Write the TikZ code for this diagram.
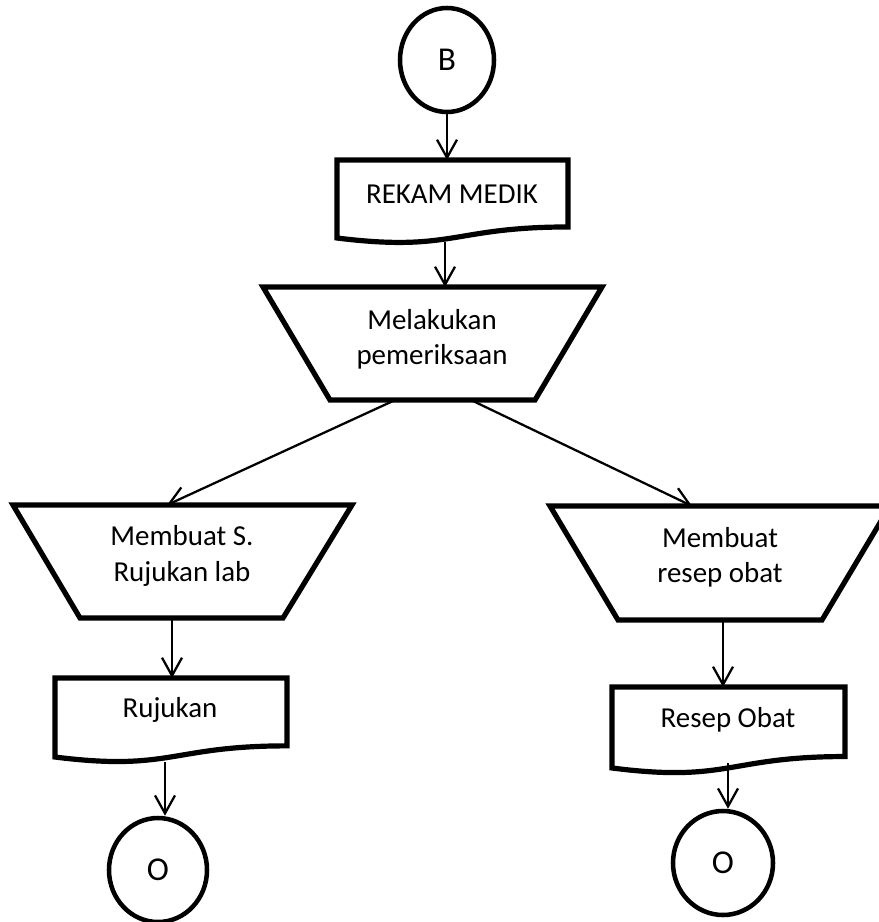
\documentclass[tikz,border=0pt]{standalone}
\usepackage{fontspec}
\setmainfont{Carlito}
\usetikzlibrary{arrows.meta,shapes.geometric}
% document symbol: x, y (top left), width, height
\newcommand\docoutline[4]{%
  \draw[shapeline] (#1,#2) -- (#1+#3,#2) -- (#1+#3,#2+0.802*#4)
    .. controls (#1+0.5*#3,#2+0.802*#4) and (#1+0.5*#3,#2+1.107*#4) .. (#1,#2+0.934*#4) -- cycle;}
% manual operation symbol: top y, top left x, top right x, bottom y, bottom left x, bottom right x
\newcommand\manualoutline[6]{%
  \draw[shapeline] (#2,#1) -- (#3,#1) -- (#6,#4) -- (#5,#4) -- cycle;}
\begin{document}
\begin{tikzpicture}[x=0.75pt,y=-0.75pt,
  shapeline/.style={line width=3.9pt,line join=miter},
  connector/.style={line width=1.7pt,-{Straight Barb[length=13.5pt,width=15pt,line width=1.7pt]}},
  terminal/.style={ellipse,draw,line width=3.4pt,inner sep=0pt,font=\fontsize{25}{30}\selectfont},
  label/.style={font=\fontsize{21.7}{26.5}\selectfont,align=center,inner sep=0pt}]
\useasboundingbox (0,0) rectangle (879,922);
\clip (0,0) rectangle (879,922);

% start connector
\node[terminal,minimum width=70.5pt,minimum height=78pt] (b) at (447,60) {B};

% medical record
\docoutline{337}{160}{231}{83.5}
\node[label] (rekam) at (452,194) {REKAM MEDIK};
\coordinate (rekamtop) at (447,160);
\coordinate (rekamout) at (445,242);

% examination
\manualoutline{287}{263}{602}{400}{330}{535}
\node[label] (periksa) at (432,339) {Melakukan\\pemeriksaan};
\coordinate (periksatop) at (445,287);
\coordinate (periksaL) at (393,401);
\coordinate (periksaR) at (473,401);

% referral branch
\manualoutline{505}{13}{352}{618}{80}{283}
\node[label] (surat) at (182,556) {Membuat S.\\Rujukan lab};
\coordinate (surattop) at (167,505);
\coordinate (suratout) at (172,618);

\docoutline{55}{678}{232}{84.6}
\node[label] (rujukan) at (170,710) {Rujukan};
\coordinate (rujukantop) at (172,678);
\coordinate (rujukanout) at (165,762);

\node[terminal,minimum width=73.5pt,minimum height=78pt] (o1) at (158,870) {O};

% prescription branch
\manualoutline{506}{550}{890}{620}{618}{822}
\node[label] (resep) at (720,557) {Membuat\\resep obat};
\coordinate (reseptop) at (692,506);
\coordinate (resepout) at (723,620);

\docoutline{612}{687}{233}{86.7}
\node[label] (obat) at (728,720) {Resep Obat};
\coordinate (obattop) at (723,687);
\coordinate (obatout) at (728,763);

\node[terminal,minimum width=75pt,minimum height=78pt] (o2) at (723,863) {O};

% connectors
\draw[connector] (b.south) -- (rekamtop);
\draw[connector] (rekamout) -- (periksatop);
\draw[connector] (periksaL) -- (surattop);
\draw[connector] (periksaR) -- (reseptop);
\draw[connector] (suratout) -- (rujukantop);
\draw[connector] (rujukanout) -- (rujukanout |- o1.north);
\draw[connector] (resepout) -- (obattop);
\draw[connector] (obatout) -- (obatout |- o2.north);
\end{tikzpicture}
\end{document}
